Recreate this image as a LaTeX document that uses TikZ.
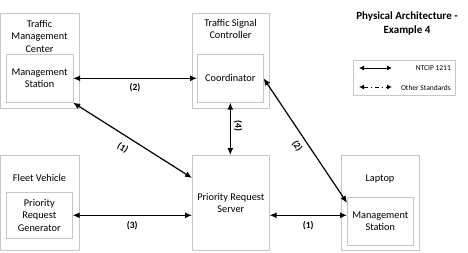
\documentclass[tikz,border=0pt]{standalone}
\usepackage{fontspec}
\setmainfont{Carlito}
\usetikzlibrary{arrows.meta,calc}
\begin{document}
\begin{tikzpicture}[x=1pt,y=-1pt,
  outerbox/.style={draw=black!22,line width=0.6pt,anchor=north west,inner sep=0pt},
  innerbox/.style={draw=black!22,line width=0.6pt,anchor=north west,inner sep=0pt,
    align=center,font=\fontsize{10.3}{12.5}\selectfont},
  caption/.style={align=center,font=\fontsize{10.3}{12.5}\selectfont,inner sep=0pt},
  flow/.style={line width=1.2pt,{Latex[length=7pt,width=6pt]}-{Latex[length=7pt,width=6pt]}},
  keyflow/.style={line width=0.9pt,{Latex[length=5pt,width=5pt]}-{Latex[length=5pt,width=5pt]}},
  tag/.style={font=\bfseries\fontsize{9.5}{11}\selectfont,inner sep=0pt},
  keytext/.style={font=\fontsize{7.5}{9}\selectfont,inner sep=0pt,anchor=east}]
\useasboundingbox (0,0) rectangle (468,252);

% Traffic Management Center
\node[outerbox,minimum width=78.5pt,minimum height=95pt] (tmc) at (0.5,13) {};
\node[caption] (tmcT) at (39.5,36) {Traffic\\Management\\Center};
\node[innerbox,minimum width=66.5pt,minimum height=48pt] (tmcS) at (6,54) {Management\\Station};

% Traffic Signal Controller
\node[outerbox,minimum width=77pt,minimum height=95pt] (tsc) at (192,13) {};
\node[caption] (tscT) at (230.5,29) {Traffic Signal\\Controller};
\node[innerbox,minimum width=66pt,minimum height=48pt] (coord) at (197,54) {Coordinator};

% Fleet Vehicle
\node[outerbox,minimum width=78.5pt,minimum height=95pt] (fv) at (0.5,155) {};
\node[caption] (fvT) at (39.5,178) {Fleet Vehicle};
\node[innerbox,minimum width=66pt,minimum height=46pt] (genS) at (6,192) {Priority\\Request\\Generator};

% Priority Request Server
\node[innerbox,minimum width=77pt,minimum height=95pt] (prs) at (192,155) {Priority Request\\Server};

% Laptop
\node[outerbox,minimum width=78pt,minimum height=95pt] (lap) at (341,155) {};
\node[caption] (lapT) at (380,179) {Laptop};
\node[innerbox,minimum width=66pt,minimum height=48pt] (lapS) at (347,197) {Management\\Station};

% Title
\node[align=center,font=\bfseries\fontsize{11}{14}\selectfont,inner sep=0pt] (title) at (407,24)
  {Physical Architecture -\\Example 4};

% Key
\node[outerbox,minimum width=102pt,minimum height=35pt] (key) at (353,60) {};
\coordinate (k1a) at (359,68);
\coordinate (k1b) at (392,68);
\coordinate (k2a) at (359,87);
\coordinate (k2b) at (392,87);
\draw[keyflow] (k1a) -- (k1b);
\draw[keyflow,dash pattern=on 4pt off 3pt on 1pt off 3pt] (k2a) -- (k2b);
\node[keytext] (k1t) at (451,68.5) {NTCIP 1211};
\node[keytext] (k2t) at (451,87.5) {Other Standards};

% Links
\draw[flow] (tmcS.east) -- (coord.west) node[tag,midway,below=5pt] {(2)};
\coordinate (prsIn) at ($(prs.north west)!0.24!(prs.south west)$);
\draw[flow] (tmcS.south east) -- (prsIn)
  node[tag,pos=0.47,rotate=-32,anchor=north,yshift=-7pt] {(1)};
\draw[flow] (coord.south) -- (prs.north -| coord.south)
  node[tag,pos=0.45,xshift=8pt,rotate=-90] {(4)};
\coordinate (lapIn) at ($(lapS.north west)!0.12!(lapS.south west)$);
\draw[flow] (coord.east) -- (lapIn)
  node[tag,midway,rotate=-56,anchor=north,yshift=-5pt] {(2)};
\draw[flow] (genS.east) -- (genS.east -| prs.west)
  node[tag,midway,below=6pt] {(3)};
\draw[flow] (genS.east -| prs.east) -- (genS.east -| lapS.west)
  node[tag,midway,below=6pt] {(1)};
\end{tikzpicture}
\end{document}
